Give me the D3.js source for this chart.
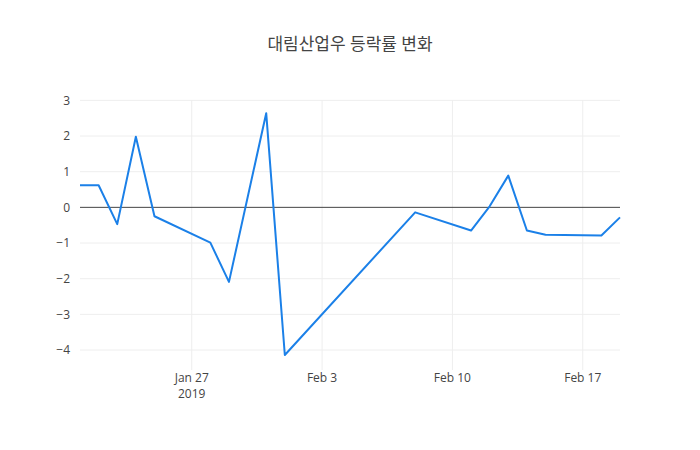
<!DOCTYPE html>
<html>
<head>
<meta charset="utf-8">
<script src="https://cdn.jsdelivr.net/npm/d3@7"></script>
<style>
  body { margin: 0; background: #fff; }
  svg { font-family: "Open Sans", "Noto Sans CJK KR", sans-serif; }
</style>
</head>
<body>
<div id="chart"></div>
<script>
// Data
const dates = [
  "2019-01-21", "2019-01-22", "2019-01-23", "2019-01-24", "2019-01-25",
  "2019-01-28", "2019-01-29", "2019-01-31", "2019-02-01", "2019-02-08",
  "2019-02-11", "2019-02-12", "2019-02-13", "2019-02-14", "2019-02-15",
  "2019-02-18", "2019-02-19"
];
const changes = [
  0.62, 0.62, -0.47, 1.98, -0.25,
  -0.99, -2.09, 2.64, -4.14, -0.14,
  -0.65, 0.03, 0.89, -0.65, -0.77,
  -0.79, -0.28
];
const yTicks = [-4, -3, -2, -1, 0, 1, 2, 3];
const xTickDates = ["2019-01-27", "2019-02-03", "2019-02-10", "2019-02-17"];
const xTickLabels = ["Jan 27", "Feb 3", "Feb 10", "Feb 17"];
const titleText = "대림산업우 등락률 변화";

const width = 700, height = 450;
const margin = { top: 100, right: 80, bottom: 80, left: 80 };
const w = width - margin.left - margin.right;
const h = height - margin.top - margin.bottom;

const parse = d3.utcParse("%Y-%m-%d");
const points = dates.map((d, i) => ({ date: parse(d), value: changes[i] }));

const svg = d3.select("#chart").append("svg")
  .attr("width", width)
  .attr("height", height);

const g = svg.append("g")
  .attr("transform", `translate(${margin.left},${margin.top})`);

const x = d3.scaleUtc()
  .domain(d3.extent(points, d => d.date))
  .range([0, w]);

const y = d3.scaleLinear()
  .domain([-4.56, 3.01])
  .range([h, 0]);

// Grid lines
g.append("g")
  .selectAll("line")
  .data(yTicks.filter(t => t !== 0))
  .join("line")
  .attr("x1", 0)
  .attr("x2", w)
  .attr("y1", d => y(d))
  .attr("y2", d => y(d))
  .attr("stroke", "#eee")
  .attr("stroke-width", 1);

g.append("g")
  .selectAll("line")
  .data(xTickDates.map(parse))
  .join("line")
  .attr("x1", d => x(d))
  .attr("x2", d => x(d))
  .attr("y1", 0)
  .attr("y2", h)
  .attr("stroke", "#eee")
  .attr("stroke-width", 1);

// Zero line
g.append("line")
  .attr("x1", 0)
  .attr("x2", w)
  .attr("y1", y(0))
  .attr("y2", y(0))
  .attr("stroke", "#444")
  .attr("stroke-width", 1);

// Y tick labels
g.append("g")
  .selectAll("text")
  .data(yTicks)
  .join("text")
  .attr("x", -10)
  .attr("y", d => y(d))
  .attr("dy", "0.35em")
  .attr("text-anchor", "end")
  .style("fill", "#444")
  .style("font-size", "12px")
  .text(d => d < 0 ? "\u2212" + Math.abs(d) : d);

// X tick labels
const xLabels = g.append("g")
  .selectAll("text")
  .data(xTickDates.map((d, i) => ({ date: parse(d), label: xTickLabels[i], first: i === 0 })))
  .join("text")
  .attr("x", d => x(d.date))
  .attr("y", h + 8)
  .attr("text-anchor", "middle")
  .style("fill", "#444")
  .style("font-size", "12px");

xLabels.append("tspan")
  .attr("x", d => x(d.date))
  .attr("dy", "0.35em")
  .text(d => d.label);

xLabels.filter(d => d.first)
  .append("tspan")
  .attr("x", d => x(d.date))
  .attr("dy", "1.35em")
  .text("2019");

// Line
const line = d3.line()
  .x(d => x(d.date))
  .y(d => y(d.value));

g.append("path")
  .datum(points)
  .attr("fill", "none")
  .attr("stroke", "#1b80e8")
  .attr("stroke-width", 2)
  .attr("stroke-linejoin", "round")
  .attr("d", line);

// Title
svg.append("text")
  .attr("x", width / 2)
  .attr("y", 50)
  .attr("text-anchor", "middle")
  .style("fill", "#444")
  .style("font-size", "17px")
  .text(titleText);
</script>
</body>
</html>
